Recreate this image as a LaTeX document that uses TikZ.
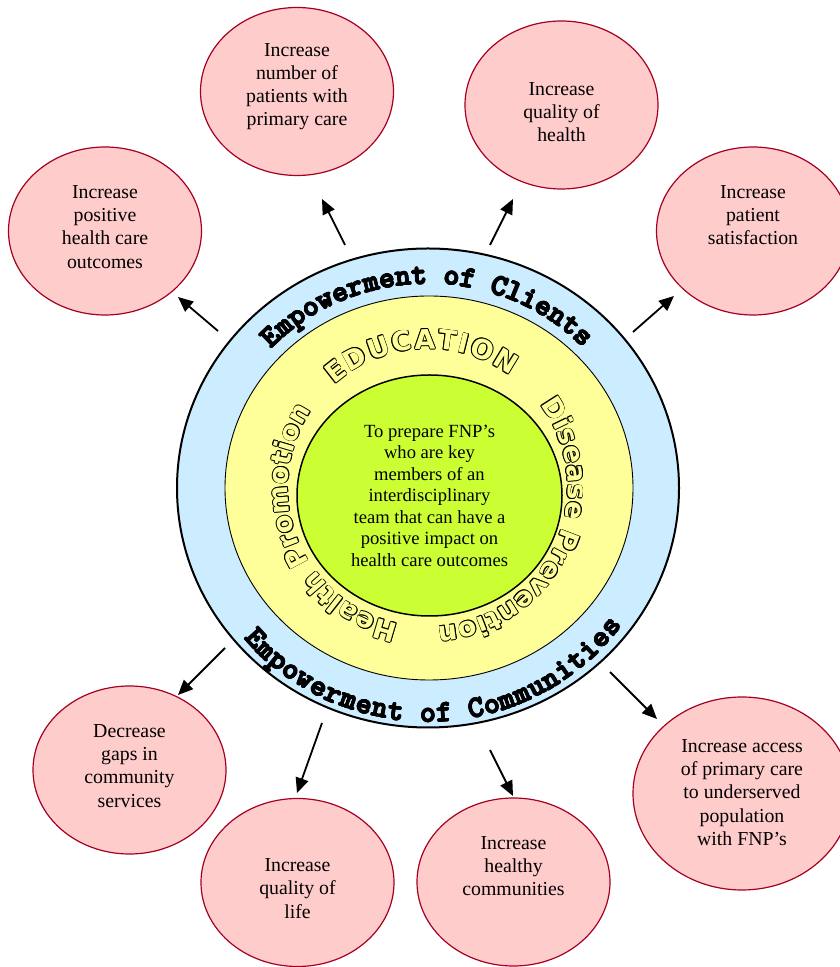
\documentclass[tikz,border=0pt]{standalone}
\usepackage{fontspec}
\setmainfont{Liberation Serif}
\newfontfamily\ringfont{DejaVu Sans}
\usepackage{tikz}
\usepackage{xcolor}
\usetikzlibrary{shapes,arrows.meta,positioning,calc,decorations.text}

\definecolor{goalpink}{HTML}{FFCCCC}
\definecolor{goalred}{HTML}{A50021}
\definecolor{ringblue}{HTML}{CCECFF}
\definecolor{ringyellow}{HTML}{FFFF99}
\definecolor{corelime}{HTML}{CCFF33}

\newcommand{\outerplain}{\ttfamily\bfseries\fontsize{30}{30}\selectfont}
\newcommand{\innerplain}{\ringfont\bfseries\fontsize{27}{27}\selectfont}

% letters along an arc round the ring centre: black copies shifted all round,
% then the letters once more in their own colour
% #1 font, #2 colour, #3 shift, #4 text, #5 start, #6 end, #7 x radius, #8 y radius
\newcommand{\ringletters}[8]{%
  \foreach \ang in {0,45,...,315}
    \path[decorate, decoration={text along path, text align=fit to path,
        text={|#1\color{black}|#4}}]
      ([shift={(\ang:#3)}]ring.center) ++(#5:#7 and #8)
        arc[start angle=#5, end angle=#6, x radius=#7, y radius=#8];
  \path[decorate, decoration={text along path, text align=fit to path,
      text={|#1\color{#2}|#4}}]
    (ring.center) ++(#5:#7 and #8)
      arc[start angle=#5, end angle=#6, x radius=#7, y radius=#8];
}

\tikzset{
  goal/.style={ellipse, draw=goalred, fill=goalpink, line width=1.2pt,
    minimum width=193pt, minimum height=168pt, inner sep=0pt},
  goaltext/.style={align=center, font=\fontsize{19.8}{23.2}\selectfont},
  outarrow/.style={-{Triangle[length=15pt,width=13pt]}, line width=1.8pt},
}

\begin{document}
\begin{tikzpicture}[x=1pt,y=1pt]
            \path[use as bounding box, fill=white] (0,0) rectangle (839,967);

            % the three rings
            \node[ellipse, draw, line width=2pt, fill=ringblue, inner sep=0pt,
                  minimum width=502pt, minimum height=479pt] (ring) at (428,479) {};
            \node[ellipse, draw, line width=0.9pt, fill=ringyellow, inner sep=0pt,
                  minimum width=408pt, minimum height=384pt] (belt) at (429,479) {};
            \node[ellipse, draw, line width=1.5pt, fill=corelime, inner sep=0pt,
                  minimum width=265pt, minimum height=241pt, align=center,
                  font=\fontsize{18.6}{21.5}\selectfont] (core) at (429.5,471.5)
                {To prepare FNP’s\\who are key\\members of an\\interdisciplinary\\team that can have a\\positive impact on\\health care outcomes};

            % lettering along the rings
            \ringletters{\outerplain}{black}{0.6}{Empowerment of Clients}{137}{44.5}{214}{204}
            \ringletters{\outerplain}{black}{0.6}{Empowerment of Communities}{220}{324}{240}{234}
            \ringletters{\innerplain}{ringyellow}{0.8}{EDUCATION}{132}{54}{140}{139}
            \ringletters{\innerplain}{ringyellow}{0.8}{Disease Prevention}{37}{-86}{140}{139}
            \ringletters{\innerplain}{ringyellow}{0.8}{Health Promotion}{258}{146}{140}{139}

            % outcomes
            \node[goal] (posout) at (105,736) {};
            \node[goaltext] (posout-t) at ([yshift=4pt]posout.center) {Increase\\positive\\health care\\outcomes};
            \node[goal] (patients) at (297,875.5) {};
            \node[goaltext] (patients-t) at ([yshift=5pt]patients.center) {Increase\\number of\\patients with\\primary care};
            \node[goal] (qhealth) at (561.5,862) {};
            \node[goaltext] (qhealth-t) at ([yshift=-7pt]qhealth.center) {Increase\\quality of\\health};
            \node[goal] (satisf) at (753,736) {};
            \node[goaltext] (satisf-t) at ([yshift=16pt]satisf.center) {Increase\\patient\\satisfaction};
            \node[goal] (gaps) at (129.5,197) {};
            \node[goaltext] (gaps-t) at ([yshift=4pt]gaps.center) {Decrease\\gaps in\\community\\services};
            \node[goal] (qlife) at (297.5,84.5) {};
            \node[goaltext] (qlife-t) at ([yshift=-6pt]qlife.center) {Increase\\quality of\\life};
            \node[goal] (healthy) at (513.5,85) {};
            \node[goaltext] (healthy-t) at ([yshift=16pt]healthy.center) {Increase\\healthy\\communities};
            \node[goal, minimum width=218pt, minimum height=193pt] (access) at (742,173.5) {};
            \node[goaltext] (access-t) at ([yshift=1pt]access.center) {Increase access\\of primary care\\to underserved\\population\\with FNP’s};

            % arrows out of the ring
            \coordinate (a1) at (218,636); \coordinate (b1) at (178,670);
            \coordinate (a2) at (345,722); \coordinate (b2) at (322,768);
            \coordinate (a3) at (490,722); \coordinate (b3) at (513,768);
            \coordinate (a4) at (633,635); \coordinate (b4) at (674,671);
            \coordinate (a5) at (225,319); \coordinate (b5) at (178,272);
            \coordinate (a6) at (322,244); \coordinate (b6) at (297,174);
            \coordinate (a7) at (490,217); \coordinate (b7) at (513,171);
            \coordinate (a8) at (610,295); \coordinate (b8) at (657,248);
            \foreach \i in {1,...,8}
                \draw[outarrow] (a\i) -- (b\i);
        \end{tikzpicture}
\end{document}
